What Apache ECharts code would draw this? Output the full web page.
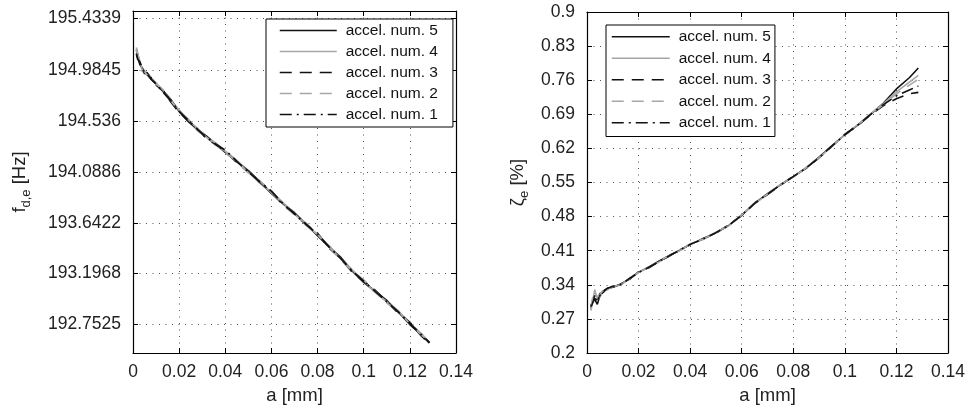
<!DOCTYPE html>
<html><head><meta charset="utf-8">
<script src="https://cdn.jsdelivr.net/npm/echarts@6/dist/echarts.min.js"></script>
<style>html,body{margin:0;padding:0;background:#fff}#c{width:970px;height:411px}</style>
</head><body><div id="c"></div>
<script>
// ---- data ----
const aValues = [0.0015,0.002,0.003,0.004,0.005,0.006,0.008,0.010,0.013,0.0165,0.020,0.024,0.028,0.032,0.036,0.040,0.045,0.050,0.055,0.060,0.065,0.070,0.075,0.080,0.085,0.090,0.095,0.100,0.105,0.110,0.115,0.120,0.125,0.1285];
const seriesNames = ['accel. num. 5','accel. num. 4','accel. num. 3','accel. num. 2','accel. num. 1'];
const aTicks = [0,0.02,0.04,0.06,0.08,0.1,0.12,0.14];
const fdeTicks = [192.7525,193.1968,193.6422,194.0886,194.536,194.9845,195.4339];
const zetaTicks = [0.2,0.27,0.34,0.41,0.48,0.55,0.62,0.69,0.76,0.83,0.9];

const fde5 = [195.16,195.12,195.03,195.00,194.96,194.95,194.90,194.86,194.80,194.72,194.62,194.53,194.46,194.40,194.33,194.26,194.18,194.10,194.00,193.90,193.81,193.73,193.63,193.53,193.43,193.34,193.22,193.12,193.04,192.96,192.86,192.75,192.66,192.59];
const fde4 = [195.18,195.09,195.06,194.98,194.98,194.94,194.91,194.87,194.79,194.71,194.63,194.54,194.47,194.39,194.32,194.27,194.19,194.09,193.99,193.91,193.82,193.72,193.62,193.54,193.44,193.33,193.23,193.13,193.03,192.95,192.87,192.76,192.67,192.59];
const fde3 = [195.13,195.10,195.04,194.99,194.95,194.96,194.91,194.85,194.80,194.70,194.61,194.54,194.46,194.38,194.33,194.27,194.17,194.09,194.00,193.91,193.80,193.72,193.63,193.55,193.42,193.33,193.21,193.13,193.05,192.95,192.85,192.77,192.65,192.58];
const fde2 = [195.15,195.13,195.05,194.97,194.97,194.94,194.92,194.86,194.81,194.71,194.62,194.55,194.45,194.39,194.34,194.26,194.18,194.08,194.01,193.91,193.81,193.71,193.64,193.54,193.43,193.32,193.22,193.14,193.04,192.94,192.86,192.76,192.66,192.60];
const fde1 = [195.12,195.08,195.05,195.00,194.96,194.95,194.90,194.86,194.79,194.71,194.62,194.54,194.46,194.39,194.33,194.28,194.18,194.09,194.00,193.92,193.81,193.72,193.63,193.54,193.43,193.33,193.22,193.13,193.04,192.95,192.86,192.76,192.66,192.59];

const zeta5 = [0.292,0.305,0.31,0.30,0.318,0.326,0.333,0.335,0.341,0.352,0.366,0.376,0.389,0.400,0.411,0.423,0.434,0.447,0.462,0.483,0.507,0.527,0.545,0.562,0.580,0.602,0.625,0.648,0.668,0.690,0.713,0.742,0.765,0.785];
const zeta4 = [0.287,0.30,0.33,0.31,0.315,0.324,0.330,0.337,0.339,0.354,0.365,0.377,0.387,0.401,0.410,0.424,0.433,0.448,0.461,0.484,0.506,0.526,0.546,0.561,0.581,0.600,0.626,0.647,0.669,0.691,0.712,0.736,0.756,0.770];
const zeta3 = [0.297,0.295,0.318,0.305,0.322,0.323,0.334,0.335,0.341,0.351,0.367,0.375,0.388,0.399,0.412,0.422,0.435,0.446,0.463,0.482,0.508,0.525,0.544,0.563,0.579,0.601,0.624,0.649,0.667,0.689,0.708,0.722,0.732,0.735];
const zeta2 = [0.29,0.31,0.325,0.315,0.32,0.327,0.332,0.336,0.34,0.352,0.366,0.376,0.389,0.400,0.411,0.423,0.434,0.447,0.462,0.483,0.507,0.526,0.545,0.562,0.580,0.601,0.625,0.648,0.668,0.690,0.710,0.732,0.750,0.762];
const zeta1 = [0.295,0.30,0.312,0.308,0.318,0.325,0.333,0.337,0.340,0.353,0.365,0.376,0.388,0.400,0.411,0.423,0.434,0.447,0.462,0.483,0.507,0.526,0.545,0.562,0.580,0.601,0.625,0.648,0.668,0.690,0.710,0.728,0.740,0.748];

// ---- styles ----
const FONT = '"Liberation Sans", Arial, sans-serif';
const colors = ['#111','#a6a6a6','#111','#a6a6a6','#111'];
const dashes = ['solid','solid',[12,8],[12,8],[12,5,2,5]];
const fdeSets = [fde5,fde4,fde3,fde2,fde1];
const zetaSets = [zeta5,zeta4,zeta3,zeta2,zeta1];

const chart = echarts.init(document.getElementById('c'), null, {renderer:'canvas'});

function fmtNum(v){ return String(+(+v).toFixed(4)); }

function xAxis(gi, pos, main){
  return {
    type:'value', gridIndex:gi, position:pos, min:0, max:0.14,
    axisLine:{show:true, onZero:false, lineStyle:{color:'#000', width:1.2}},
    axisTick:{show:true, inside:true, length:5, customValues:aTicks, lineStyle:{color:'#000'}},
    axisLabel:{show:main, customValues:aTicks, margin:10, fontSize:17.5, color:'#222', fontFamily:FONT, formatter:fmtNum},
    splitLine:{show:main, lineStyle:{type:[1,5.5], color:'#555', width:1}},
    name: main ? 'a [mm]' : '', nameLocation:'middle', nameGap:33,
    nameTextStyle:{fontSize:18.5, color:'#222', fontFamily:FONT}
  };
}
function yAxis(gi, pos, main, mn, mx, ticks, name, gap, rich){
  return {
    type:'value', gridIndex:gi, position:pos, min:mn, max:mx,
    axisLine:{show:true, onZero:false, lineStyle:{color:'#000', width:1.2}},
    axisTick:{show:true, inside:true, length:5, customValues:ticks, lineStyle:{color:'#000'}},
    axisLabel:{show:main, customValues:ticks, margin:12, fontSize:17.5, color:'#222', fontFamily:FONT, formatter:fmtNum},
    splitLine:{show:main, lineStyle:{type:[1,5.5], color:'#555', width:1}},
    name: main ? name : '', nameLocation:'middle', nameGap:gap,
    nameTextStyle:{fontSize:18.5, color:'#222', fontFamily:FONT, rich:rich}
  };
}

const richF = {
  m:{fontSize:18.5, fontFamily:FONT, color:'#222', lineHeight:26},
  s:{fontSize:13, fontFamily:FONT, color:'#222', verticalAlign:'bottom', lineHeight:14}
};

const series = [];
for (let i=0;i<5;i++){
  series.push({
    type:'line', name:seriesNames[i], xAxisIndex:0, yAxisIndex:0,
    data:aValues.map((a,k)=>[a, fdeSets[i][k]]),
    showSymbol:false, symbol:'none', smooth:false, animation:false,
    lineStyle:{color:colors[i], width:1.8, type:dashes[i]}, itemStyle:{color:colors[i]}
  });
}
for (let i=0;i<5;i++){
  series.push({
    type:'line', name:seriesNames[i], xAxisIndex:2, yAxisIndex:2,
    data:aValues.map((a,k)=>[a, zetaSets[i][k]]),
    showSymbol:false, symbol:'none', smooth:false, animation:false,
    lineStyle:{color:colors[i], width:1.6, type:dashes[i]}, itemStyle:{color:colors[i]}
  });
}

function legend(left, top, iw, lh, pad){
  return {
    left:left, top:top, orient:'vertical', data:seriesNames, selectedMode:false,
    itemWidth:iw, itemHeight:10, itemGap:0, padding:pad,
    itemStyle:{color:'transparent', borderWidth:0, opacity:0},
    lineStyle:{width:1.5},
    borderColor:'#000', borderWidth:1, backgroundColor:'#fff',
    textStyle:{fontSize:15.5, lineHeight:lh, color:'#111', fontFamily:FONT, padding:[0,0,0,4]}
  };
}

chart.setOption({
  animation:false,
  backgroundColor:'#fff',
  grid:[
    {left:133, top:11, width:323, height:342, containLabel:false},
    {left:587, top:12, width:361, height:341, containLabel:false}
  ],
  xAxis:[ xAxis(0,'bottom',true), xAxis(0,'top',false), xAxis(1,'bottom',true), xAxis(1,'top',false) ],
  yAxis:[
    yAxis(0,'left',true,192.5,195.5,fdeTicks,'{m|f}{s|d,e}{m| [Hz]}',100,richF),
    yAxis(0,'right',false,192.5,195.5,fdeTicks,'',0,richF),
    yAxis(1,'left',true,0.2,0.9,zetaTicks,'{m|ζ}{s|e}{m| [%]}',56,richF),
    yAxis(1,'right',false,0.2,0.9,zetaTicks,'',0,richF)
  ],
  legend:[ legend(266,19,57,21,[1,15,2,13]), legend(606,25,58,21.5,[1,4,3,5]) ],
  series:series
});
</script></body></html>
